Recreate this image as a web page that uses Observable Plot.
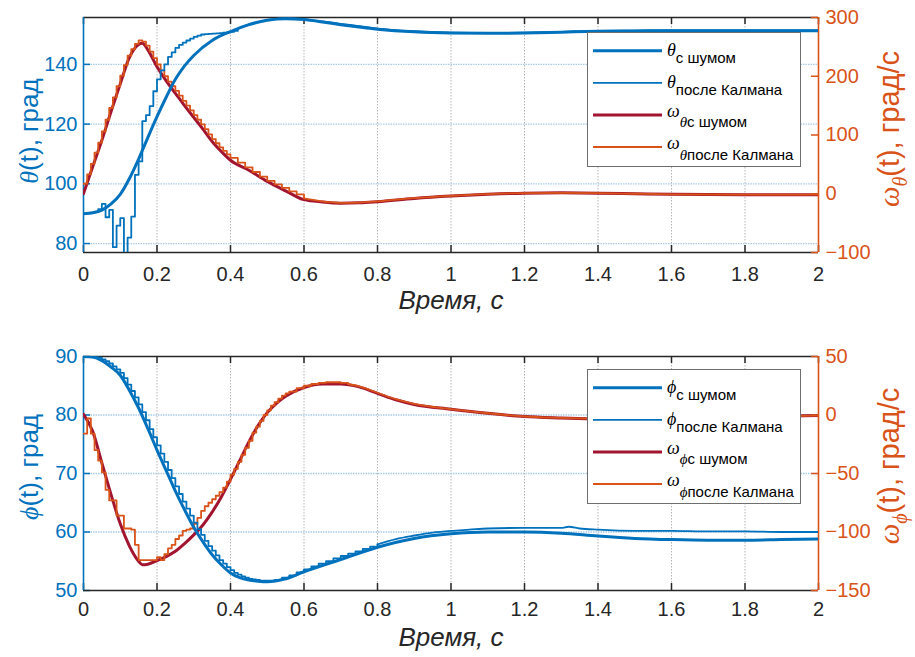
<!DOCTYPE html>
<html><head><meta charset="utf-8">
<script src="https://cdn.jsdelivr.net/npm/d3@7"></script>
<script src="https://cdn.jsdelivr.net/npm/@observablehq/plot@0.6"></script>
<style>
body{margin:0;background:#fff;}
#fig{position:relative;width:915px;height:657px;background:#fff;overflow:hidden;}
#fig svg{position:absolute;left:0;}
</style></head><body><div id="fig"></div>
<script>
// ---------- tick labels ----------
const xTicks = [0, 0.2, 0.4, 0.6, 0.8, 1, 1.2, 1.4, 1.6, 1.8, 2];
const thetaTicks = [80, 100, 120, 140];
const omegaThetaTicks = [-100, 0, 100, 200, 300];
const phiTicks = [50, 60, 70, 80, 90];
const omegaPhiTicks = [-150, -100, -50, 0, 50];
const xLabel = "Время, с";
const legendTop = ["с шумом", "после Калмана", "с шумом", "после Калмана"];

// ---------- top panel: theta ----------
const thetaNoisyT = [0,0.025,0.05,0.075,0.1,0.125,0.15,0.175,0.2,0.225,0.25,0.275,0.3,0.35,0.4,0.45,0.5,0.55,0.6,0.65,0.7,0.75,0.8,0.9,1.0,1.1,1.2,1.3,1.4,1.5,1.6,1.7,1.8,1.9,2.0];
const thetaNoisy  = [90.0,90.3,91.2,93.3,96.5,101.8,108.3,115.5,122.5,129,135,139.5,143,148,151,153.3,154.8,155.3,155,154.2,153.3,152.5,151.8,150.9,150.5,150.4,150.5,150.8,151.1,151.2,151.3,151.3,151.3,151.3,151.3];

const thetaKalmanT = [0,0.01,0.02,0.03,0.04,0.05,0.06,0.07,0.08,0.09,0.10,0.11,0.12,0.13,0.14,0.15,0.16,0.17,0.18,0.19,0.20,0.21,0.22,0.23,0.24,0.25,0.26,0.27,0.28,0.29,0.30,0.31,0.32,0.33,0.34,0.35,0.36,0.37,0.38,0.39,0.40,0.41,
  0.42,0.44,0.46,0.48,0.50,0.52,0.54,0.56,0.58,0.60,
  0.65,0.7,0.75,0.8,0.9,1.0,1.1,1.2,1.3,1.4,1.6,1.8,2.0];
const thetaKalman = [90.0,90.1,90.2,90.5,91.5,93.3,88.8,91.3,78.8,86.0,88.5,74.0,82.0,89.0,103.0,107.5,121.0,123.0,126.0,131.0,135.0,138.0,140.0,142.5,144.0,145.5,146.5,147.3,148.0,148.6,149.2,149.6,150.0,150.1,150.2,150.3,150.4,150.5,150.6,150.7,150.9,151.2,
  151.9,152.9,153.7,154.3,154.9,155.2,155.4,155.4,155.3,155.1,
  154.4,153.6,152.8,152.0,151.1,150.6,150.5,150.6,150.9,151.2,151.4,151.4,151.4];

const omegaThetaNoisyT = [0,0.025,0.05,0.075,0.1,0.125,0.15,0.16,0.175,0.2,0.225,0.25,0.275,0.3,0.325,0.35,0.375,0.4,0.45,0.5,0.55,0.6,0.65,0.7,0.75,0.8,0.9,1.0,1.1,1.2,1.3,1.4,1.5,1.6,1.8,2.0];
const omegaThetaNoisy  = [0,46,91,140,187,232,254,256,245,216,192,171,150,130,110,89,72,57,40,21,5,-10,-14,-16,-15.5,-13.5,-8,-4,-1,1,1.5,1,0,-1,-1.5,-1.5];

const omegaThetaKalmanT = [0,0.01,0.02,0.03,0.04,0.05,0.06,0.07,0.08,0.09,0.10,0.11,0.12,0.13,0.14,0.15,0.16,0.17,0.18,0.19,0.20,0.21,0.22,0.23,0.24,0.25,0.26,0.27,0.28,0.29,0.30,0.31,0.32,0.33,0.34,0.35,0.36,0.37,0.38,0.39,0.40,
  0.42,0.44,0.46,0.48,0.50,0.52,0.54,0.56,0.58,0.60,
  0.65,0.7,0.75,0.8,0.9,1.0,1.1,1.2,1.3,1.4,1.5,1.6,1.8,2.0];
const omegaThetaKalman = [17,33,51,70,87,106,126,146,164,183,201,219,235,246,255,261,259,252,242,231,220,210,200,191,183,175,167,158,150,142,134,126,118,110,101,93,86,79,73,67,61,
  53,45,37,29,22,16,10,4,-1,-8,
  -13,-15.5,-15,-13,-7.5,-3.5,-0.5,1.2,1.5,1,0,-1,-1.5,-1.5];

// ---------- bottom panel: phi ----------
const phiNoisyT = [0,0.025,0.05,0.075,0.1,0.125,0.15,0.175,0.2,0.225,0.25,0.275,0.3,0.325,0.35,0.375,0.4,0.425,0.45,0.475,0.5,0.55,0.6,0.7,0.8,0.9,1.0,1.1,1.2,1.3,1.4,1.5,1.6,1.7,1.8,1.9,2.0];
const phiNoisy  = [90,89.9,89.3,88.2,86.8,84.2,81.2,77.7,74.0,70.5,67.0,63.8,60.8,58.3,56.1,54.4,53.0,52.2,51.8,51.6,51.5,52.0,53.2,55.3,57.4,58.9,59.7,60.0,60.0,59.8,59.3,58.9,58.7,58.6,58.6,58.7,58.8];

const phiKalmanT = [0,0.01,0.02,0.03,0.04,0.05,0.06,0.07,0.08,0.09,0.10,0.11,0.12,0.13,0.14,0.15,0.16,0.17,0.18,0.19,0.20,0.21,0.22,0.23,0.24,0.25,0.26,0.27,0.28,0.29,0.30,0.31,0.32,0.33,0.34,0.35,0.36,0.37,0.38,0.39,0.40,0.41,0.42,0.43,0.44,0.45,0.46,0.47,0.48,0.49,0.50,
  0.52,0.54,0.56,0.58,0.60,0.62,0.64,0.66,0.68,0.70,0.72,0.74,0.76,0.78,0.80,
  0.85,0.9,0.95,1.0,1.05,1.1,1.2,1.3,1.32,1.35,1.4,1.5,1.6,1.7,1.8,1.9,2.0];
const phiKalman = [90.0,90.0,90.0,89.9,89.8,89.5,89.2,88.8,88.3,87.8,87.2,86.3,85.2,84.1,83.0,81.8,80.5,79.1,77.6,76.2,74.8,73.4,72.0,70.6,69.2,67.8,66.5,65.2,64.0,62.8,61.6,60.5,59.5,58.5,57.6,56.8,56.0,55.2,54.6,54.0,53.5,53.0,52.7,52.4,52.2,52.0,51.9,51.8,51.7,51.7,51.7,
  51.8,52.2,52.6,53.1,53.6,54.1,54.6,55.0,55.5,55.9,56.3,56.7,57.1,57.5,57.9,
  58.8,59.4,59.9,60.2,60.4,60.6,60.7,60.7,60.9,60.6,60.4,60.2,60.2,60.1,60.1,60.0,60.0];

const omegaPhiNoisyT = [0,0.025,0.05,0.075,0.1,0.125,0.15,0.16,0.175,0.2,0.225,0.25,0.275,0.3,0.325,0.35,0.375,0.4,0.425,0.45,0.475,0.5,0.525,0.55,0.6,0.65,0.7,0.75,0.8,0.85,0.9,1.0,1.1,1.2,1.3,1.4,1.5,1.6,1.8,2.0];
const omegaPhiNoisy  = [0.5,-14,-41,-68,-93,-112,-125,-128,-127.5,-124.5,-121,-116.5,-110,-102.5,-94,-83,-70,-55,-39,-23,-9,2,10,16,23.5,26.5,26.5,24,18.5,13,9,5,1.5,-1.3,-2.5,-3.3,-3,-2.5,-1.5,-0.5];

const omegaPhiKalmanT = [0,0.01,0.02,0.03,0.04,0.05,0.06,0.07,0.08,0.09,0.10,0.11,0.12,0.13,0.14,0.15,0.16,0.17,0.18,0.19,0.20,0.21,0.22,0.23,0.24,0.25,0.26,0.27,0.28,0.29,0.30,0.31,0.32,0.33,0.34,0.35,0.36,0.37,0.38,0.39,0.40,0.41,0.42,0.43,0.44,0.45,0.46,0.47,0.48,0.49,0.50,0.51,0.52,0.53,0.54,0.55,0.56,
  0.58,0.60,0.62,0.64,0.66,0.68,0.70,0.72,
  0.75,0.8,0.85,0.9,1.0,1.1,1.2,1.3,1.4,1.5,1.6,1.8,2.0];
const omegaPhiKalman = [-16,-3,-16,-30,-39,-49,-64,-73,-73,-86,-86,-97,-97,-98,-111,-124,-124,-124,-124,-124,-121.5,-124,-119,-114,-111,-106,-103,-99,-98,-97,-93,-88,-82,-78,-75,-72,-69,-66,-62,-57,-51,-46,-40,-34,-28,-22,-15,-10,-5,0,4,8,11,14,16.5,18.5,20,
  23,25,26.5,27.5,28,28,27.5,26.5,
  24.5,19,13.5,9.5,5,1.5,-1.3,-2.5,-3.3,-3,-2.5,-1.5,-0.5];

// ---------- styling ----------
const BLUE = "#0072BD", RED = "#A2142F", ORANGE = "#D95319", DARK = "#262626";
const SANS = "'Liberation Sans', Arial, Helvetica, sans-serif";
const SERIF = "'Liberation Serif', 'Times New Roman', serif";
const W = 915, ML = 83, MR = 97;
const PW = W - ML - MR;
const pairs = (ts, vs) => ts.map((t, i) => ({t, v: vs[i]}));

// a filtered series is drawn as steps up to `cut`, and as a plain line after it,
// where the sampling steps are too small to be seen
function stepped(ts, vs, cut, opts) {
  const d = pairs(ts, vs);
  return [
    Plot.line(d.filter(p => p.t <= cut), {x: "t", y: "v", curve: "step-after", clip: true, ...opts}),
    Plot.line(d.filter(p => p.t >= cut), {x: "t", y: "v", curve: "monotone-x", clip: true, ...opts})
  ];
}

function panel(cfg) {
  const fig = document.getElementById("fig");
  const H = cfg.height - cfg.mt - cfg.mb;
  const base = {
    width: W, height: cfg.height,
    marginLeft: ML, marginRight: MR, marginTop: cfg.mt, marginBottom: cfg.mb,
    style: {background: "transparent", fontFamily: SANS, fontSize: "20px", overflow: "visible"}
  };
  const A = Plot.plot({...base,
    x: {domain: [0, 2]},
    y: {domain: cfg.yL},
    marks: [
      Plot.ruleX(xTicks.slice(1, -1), {stroke: "#b4b4b4", strokeDasharray: "1.5,1.5", strokeWidth: 1}),
      Plot.ruleY(cfg.leftGrid, {stroke: "#a9cbe8", strokeDasharray: "1.5,1", strokeWidth: 1.3}),
      Plot.axisX({ticks: xTicks, tickSize: 0, tickPadding: cfg.xPad, tickFormat: d => String(d), fontSize: 20, color: DARK, label: null}),
      Plot.axisY({anchor: "left", ticks: cfg.leftTicks, tickSize: 0, tickPadding: 6, fontSize: 20, color: BLUE, label: null}),
      Plot.tickX(xTicks, {x: d => d, stroke: DARK, strokeWidth: 1.5, insetTop: H - 7}),
      Plot.tickX(xTicks, {x: d => d, stroke: DARK, strokeWidth: 1.5, insetBottom: H - 7}),
      Plot.tickY(cfg.leftTicks, {y: d => d, stroke: BLUE, strokeWidth: 1.5, insetRight: PW - 7}),
      Plot.ruleY([cfg.yL[0]], {stroke: DARK, strokeWidth: 1.6}),
      Plot.ruleY([cfg.yL[1]], {stroke: DARK, strokeWidth: 1.6}),
      Plot.ruleX([0], {stroke: BLUE, strokeWidth: 1.6}),
      Plot.text([xLabel], {frameAnchor: "bottom", dy: cfg.xLabelDy, fontSize: 26, fontStyle: "italic", fill: DARK})
    ]
  });
  const B = Plot.plot({...base,
    x: {domain: [0, 2], axis: null},
    y: {domain: cfg.yR},
    marks: [
      Plot.line(pairs(cfg.wNoisyT, cfg.wNoisy), {x: "t", y: "v", stroke: RED, strokeWidth: 3, curve: "monotone-x", clip: true}),
      ...stepped(cfg.wKalmanT, cfg.wKalman, cfg.wCut, {stroke: ORANGE, strokeWidth: 1.8}),
      Plot.axisY({anchor: "right", ticks: cfg.rightTicks, tickSize: 0, tickPadding: 7, fontSize: 20, color: ORANGE, label: null}),
      Plot.tickY(cfg.rightTicks, {y: d => d, stroke: ORANGE, strokeWidth: 1.5, insetLeft: PW - 7}),
      Plot.ruleX([2], {stroke: ORANGE, strokeWidth: 1.6})
    ]
  });
  const C = Plot.plot({...base,
    x: {domain: [0, 2], axis: null},
    y: {domain: cfg.yL, axis: null},
    marks: [
      Plot.line(pairs(cfg.aNoisyT, cfg.aNoisy), {x: "t", y: "v", stroke: BLUE, strokeWidth: 3, curve: "monotone-x", clip: true}),
      ...stepped(cfg.aKalmanT, cfg.aKalman, cfg.aCut, {stroke: BLUE, strokeWidth: 1.8})
    ]
  });
  for (const s of [A, B, C]) { s.style.top = cfg.top + "px"; fig.appendChild(s); }

  // y labels
  const la = d3.select(A).append("text")
    .attr("transform", `translate(38,${cfg.leftLabelY}) rotate(-90)`)
    .attr("text-anchor", "middle").attr("fill", BLUE).attr("font-size", 26).attr("font-family", SANS);
  la.append("tspan").attr("font-family", SERIF).attr("font-style", "italic").text(cfg.sym);
  la.append("tspan").text("(t), град");

  const lb = d3.select(B).append("text")
    .attr("transform", `translate(899,${cfg.rightLabelY}) rotate(-90)`)
    .attr("text-anchor", "middle").attr("fill", ORANGE).attr("font-size", 29).attr("font-family", SANS);
  lb.append("tspan").attr("font-family", SERIF).attr("font-style", "italic").text("ω");
  lb.append("tspan").attr("font-family", SERIF).attr("font-style", "italic").attr("font-size", 20).attr("dy", 8).text(cfg.sym);
  lb.append("tspan").attr("dy", -8).text("(t), град/с");

  // legend
  const g = d3.select(C).append("g").attr("font-family", SANS).attr("text-anchor", "start");
  g.append("rect").attr("x", 587.5).attr("y", cfg.legY + 0.5).attr("width", 213).attr("height", 134)
    .attr("fill", "white").attr("stroke", "#6e6e6e").attr("stroke-width", 1);
  const entries = [
    {stroke: BLUE, w: 3, main: cfg.sym, subSym: "", sub: legendTop[0]},
    {stroke: BLUE, w: 1.8, main: cfg.sym, subSym: "", sub: legendTop[1]},
    {stroke: RED, w: 3, main: "ω", subSym: cfg.sym, sub: legendTop[2]},
    {stroke: ORANGE, w: 1.8, main: "ω", subSym: cfg.sym, sub: legendTop[3]}
  ];
  entries.forEach((e, i) => {
    const ly = cfg.legY + 18.7 + i * 32.1;
    g.append("line").attr("x1", 593).attr("x2", 662).attr("y1", ly).attr("y2", ly)
      .attr("stroke", e.stroke).attr("stroke-width", e.w);
    const isOmega = e.main === "ω";
    const t = g.append("text").attr("x", 667).attr("y", ly + (isOmega ? 2 : 5.5))
      .attr("fill", "#000").attr("font-size", 18).attr("text-anchor", "start");
    t.append("tspan").attr("font-family", SERIF).attr("font-style", "italic").text(e.main);
    const dy = isOmega ? 10.5 : 7;
    if (e.subSym) {
      t.append("tspan").attr("font-size", 15).attr("dy", dy)
        .attr("font-family", SERIF).attr("font-style", "italic").text(e.subSym);
      t.append("tspan").attr("font-size", 15).text(e.sub);
    } else {
      t.append("tspan").attr("font-size", 15).attr("dy", dy).text(e.sub);
    }
  });
}

panel({
  top: 0, height: 328, mt: 17, mb: 76, xPad: 14, xLabelDy: 56,
  yL: [77, 155.7], yR: [-100, 300],
  leftTicks: thetaTicks, leftGrid: thetaTicks, rightTicks: omegaThetaTicks,
  aNoisyT: thetaNoisyT, aNoisy: thetaNoisy, aKalmanT: thetaKalmanT, aKalman: thetaKalman, aCut: 0.42,
  wNoisyT: omegaThetaNoisyT, wNoisy: omegaThetaNoisy, wKalmanT: omegaThetaKalmanT, wKalman: omegaThetaKalman, wCut: 0.6,
  sym: "θ", leftLabelY: 131, rightLabelY: 129, legY: 32
});
panel({
  top: 328, height: 329, mt: 28, mb: 67, xPad: 11, xLabelDy: 55,
  yL: [50, 90], yR: [-150, 50],
  leftTicks: phiTicks, leftGrid: [60, 70, 80], rightTicks: omegaPhiTicks,
  aNoisyT: phiNoisyT, aNoisy: phiNoisy, aKalmanT: phiKalmanT, aKalman: phiKalman, aCut: 0.8,
  wNoisyT: omegaPhiNoisyT, wNoisy: omegaPhiNoisy, wKalmanT: omegaPhiKalmanT, wKalman: omegaPhiKalman, wCut: 0.72,
  sym: "ϕ", leftLabelY: 139, rightLabelY: 138, legY: 41
});
</script></body></html>
